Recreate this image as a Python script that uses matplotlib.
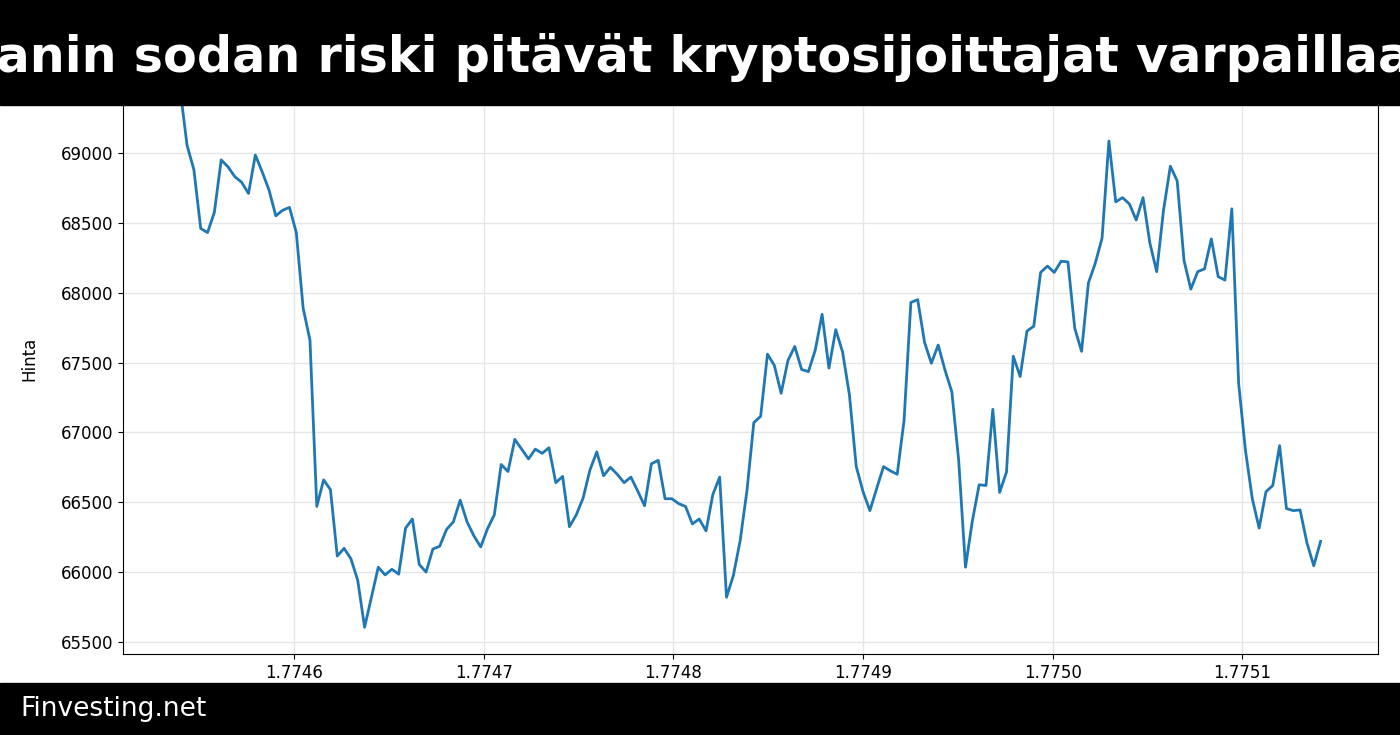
import matplotlib

matplotlib.use("Agg")
import matplotlib.pyplot as plt
import numpy as np

# hourly timestamps (epoch seconds) and prices
start_ts = 1774540000
prices = [
    69450, 69055, 68880, 68460, 68430, 68575, 68950, 68900, 68830, 68790,
    68710, 68985, 68865, 68735, 68550, 68590, 68610, 68430, 67890, 67660,
    66470, 66660, 66590, 66115, 66170, 66095, 65940, 65605, 65820, 66035,
    65980, 66020, 65985, 66315, 66380, 66055, 66000, 66165, 66185, 66305,
    66360, 66515, 66360, 66260, 66180, 66310, 66410, 66770, 66720, 66950,
    66880, 66810, 66880, 66850, 66890, 66640, 66685, 66325, 66410, 66530,
    66730, 66860, 66690, 66750, 66700, 66640, 66680, 66580, 66475, 66775,
    66800, 66525, 66525, 66490, 66470, 66345, 66380, 66295, 66555, 66680,
    65820, 65975, 66225, 66585, 67070, 67115, 67560, 67480, 67280, 67515,
    67615, 67450, 67435, 67590, 67845, 67460, 67735, 67575, 67270, 66755,
    66575, 66440, 66600, 66755, 66725, 66700, 67085, 67930, 67950, 67645,
    67495, 67625, 67445, 67290, 66800, 66035, 66365, 66625, 66620, 67165,
    66570, 66715, 67545, 67400, 67725, 67760, 68145, 68190, 68145, 68225,
    68220, 67745, 67580, 68070, 68210, 68390, 69085, 68650, 68680, 68635,
    68520, 68680, 68355, 68150, 68590, 68905, 68800, 68230, 68025, 68150,
    68170, 68385, 68115, 68090, 68600, 67350, 66870, 66525, 66315, 66575,
    66620, 66905, 66455, 66440, 66445, 66210, 66045, 66220,
]
times = start_ts + 3600 * np.arange(len(prices))

title = "Iranin sodan riski pitävät kryptosijoittajat varpaillaan"

fig = plt.figure(figsize=(14, 7.35), dpi=100)
ax = fig.add_axes([0.088, 0.110, 0.896, 0.804])
ax.plot(times, prices, color="#1f77b4", linewidth=2)
ax.set_ylabel("Hinta", fontsize=12, labelpad=16)
ax.tick_params(labelsize=12)
ax.grid(True, color="#e6e6e6", linewidth=1)
ax.set_axisbelow(True)

# header and footer bars
fig.patches.append(plt.Rectangle((0, 1 - 105 / 735), 1, 105 / 735, transform=fig.transFigure,
                                 color="black", zorder=5))
fig.patches.append(plt.Rectangle((0, 0), 1, 52 / 735, transform=fig.transFigure,
                                 color="black", zorder=5))
fig.text(0.5, 1 - 57 / 735, title, color="white", fontsize=35.5, fontweight="bold",
         ha="center", va="center", zorder=6)
fig.text(20 / 1400, 26 / 735, "Finvesting.net", color="white", fontsize=19,
         ha="left", va="center", zorder=6)

fig.savefig("out.png", dpi=100)
plt.close(fig)
